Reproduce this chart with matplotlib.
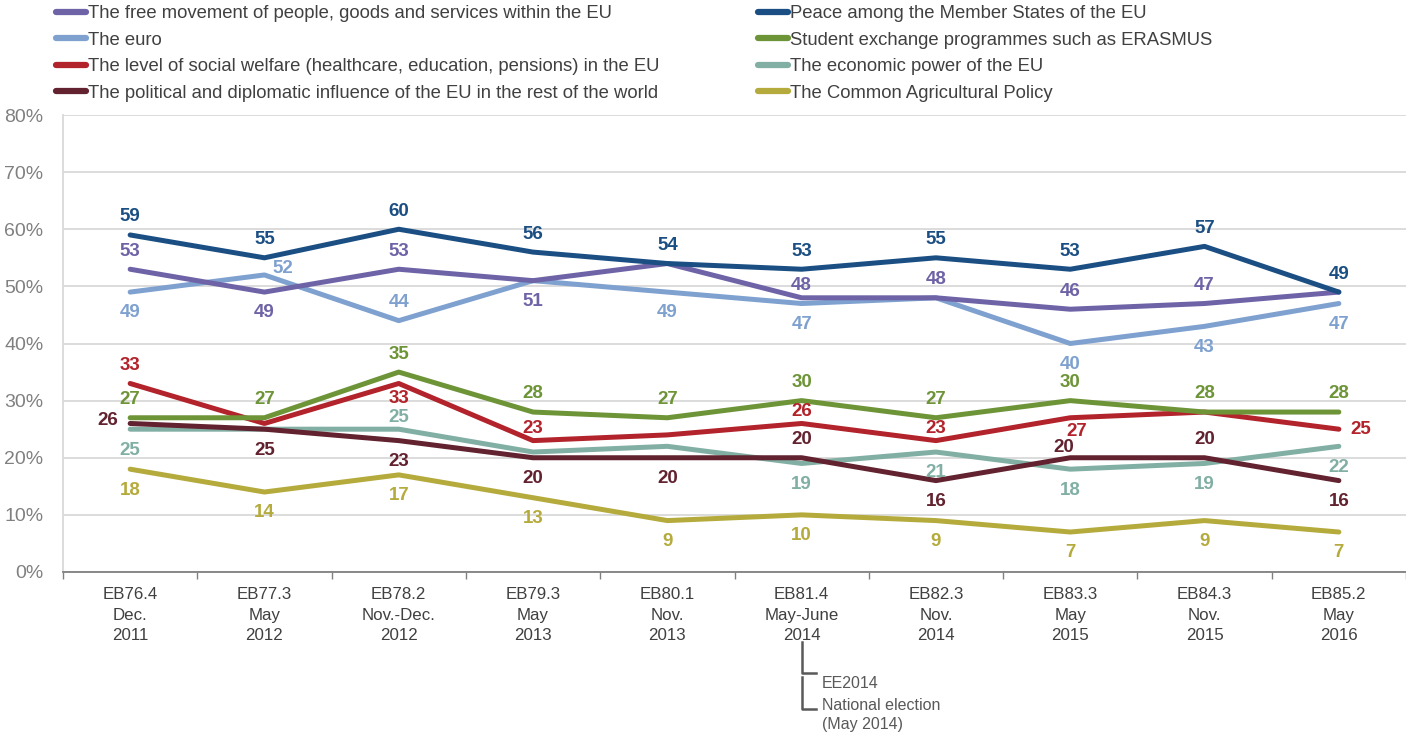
import numpy as np
import matplotlib.pyplot as plt
from matplotlib.lines import Line2D
import matplotlib.transforms as mtransforms

plt.rcParams['font.family'] = ['Liberation Sans', 'DejaVu Sans']

# survey waves (x axis)
waves = ['EB76.4\nDec.\n2011', 'EB77.3\nMay\n2012', 'EB78.2\nNov.-Dec.\n2012',
         'EB79.3\nMay\n2013', 'EB80.1\nNov.\n2013', 'EB81.4\nMay-June\n2014',
         'EB82.3\nNov.\n2014', 'EB83.3\nMay\n2015', 'EB84.3\nNov.\n2015',
         'EB85.2\nMay\n2016']

# series values (%)
free_movement = [53, 49, 53, 51, 54, 48, 48, 46, 47, 49]
euro = [49, 52, 44, 51, 49, 47, 48, 40, 43, 47]
welfare = [33, 26, 33, 23, 24, 26, 23, 27, 28, 25]
influence = [26, 25, 23, 20, 20, 20, 16, 20, 20, 16]
peace = [59, 55, 60, 56, 54, 53, 55, 53, 57, 49]
erasmus = [27, 27, 35, 28, 27, 30, 27, 30, 28, 28]
economic = [25, 25, 25, 21, 22, 19, 21, 18, 19, 22]
cap = [18, 14, 17, 13, 9, 10, 9, 7, 9, 7]

names = ['The free movement of people, goods and services within the EU',
         'The euro',
         'The level of social welfare (healthcare, education, pensions) in the EU',
         'The political and diplomatic influence of the EU in the rest of the world',
         'Peace among the Member States of the EU',
         'Student exchange programmes such as ERASMUS',
         'The economic power of the EU',
         'The Common Agricultural Policy']
values = [free_movement, euro, welfare, influence, peace, erasmus, economic, cap]

colors = ['#6E63A6', '#7FA1CF', '#B2232B', '#62222F',
          '#1B4F83', '#6E9438', '#82AFA4', '#B5AB3D']
zorders = [5, 4, 6, 5, 8, 7, 3, 4]

# where each value label sits: a above, b below, A/B close above/below,
# l left, r right, q up-right, d down-right, e up-left, n no label
label_pos = ['ababnAaaan',
             'bqanbbnbbb',
             'anBAnAAdnr',
             'lbbbbabeab',
             'aaaaaaaaaa',
             'aaaaaaaaaa',
             'bnAnnbbbbb',
             'bbbbbbbbbb']
offsets = {'a': (0, 13), 'b': (0, -15), 'A': (0, 8.5), 'B': (0, -11),
           'l': (-16, 2), 'r': (16, 0), 'q': (13, 5), 'd': (5, -10),
           'e': (-5, 7.5)}

fig = plt.figure(figsize=(14.06, 7.34), dpi=100)
ax = fig.add_axes([63 / 1406, 1 - 572 / 734, 1 - 63 / 1406, 457 / 734])

x = np.arange(len(waves))
handles = []
for vals, col, z, pos in zip(values, colors, zorders, label_pos):
    ln, = ax.plot(x, vals, color=col, lw=3.6, zorder=z,
                  solid_capstyle='round', solid_joinstyle='round')
    handles.append(ln)
    for xi, v, p in zip(x, vals, pos):
        if p == 'n':
            continue
        ax.annotate(str(v), (xi, v), xytext=offsets[p],
                    textcoords='offset points', ha='center', va='center',
                    fontsize=13.5, fontweight='bold', color=col, zorder=10)

ax.set_xlim(-0.5, len(waves) - 0.5)
ax.set_ylim(0, 80)
ax.set_yticks(range(0, 81, 10))
ax.set_yticklabels([f'{v}%' for v in range(0, 81, 10)])
ax.tick_params(axis='y', length=0, pad=14, labelsize=14, labelcolor='#808080')
ax.grid(axis='y', color='#D9D9D9', lw=1.3, zorder=0)

ax.set_xticks(x)
ax.set_xticklabels(waves, fontsize=12.2, color='#404040', linespacing=1.45)
ax.tick_params(axis='x', which='major', length=0, pad=11)
ax.set_xticks(np.arange(-0.5, len(waves)), minor=True)
ax.tick_params(axis='x', which='minor', length=5, width=1, color='#808080',
               direction='out')

for side in ['top', 'right']:
    ax.spines[side].set_visible(False)
ax.spines['left'].set_color('#D9D9D9')
ax.spines['left'].set_linewidth(1.3)
ax.spines['bottom'].set_color('#808080')
ax.spines['bottom'].set_linewidth(1.3)

# election note under EB81.4
trans = mtransforms.blended_transform_factory(ax.transData, fig.transFigure)
note_col = '#595959'
ax.add_line(Line2D([5, 5, 5.11], [1 - 642 / 734, 1 - 673 / 734, 1 - 673 / 734],
                   transform=trans, color=note_col, lw=1.8, clip_on=False))
ax.add_line(Line2D([5, 5, 5.11], [1 - 677 / 734, 1 - 709 / 734, 1 - 709 / 734],
                   transform=trans, color=note_col, lw=1.8, clip_on=False))
for txt, ypix in [('EE2014', 683), ('National election', 706),
                  ('(May 2014)', 725)]:
    ax.text(5.15, 1 - ypix / 734, txt, transform=trans, fontsize=11.5,
            color=note_col, va='center', ha='left')

# legend: two columns of four
leg_kw = dict(loc='upper left', frameon=False, fontsize=13.3, handlelength=1.65,
              handletextpad=0.08, labelspacing=0.52, borderpad=0,
              borderaxespad=0, labelcolor='#404040')
leg1 = fig.legend(handles[:4], names[:4], bbox_to_anchor=(56 / 1406, 1 - 5 / 734),
                  **leg_kw)
leg2 = fig.legend(handles[4:], names[4:], bbox_to_anchor=(758 / 1406, 1 - 5 / 734),
                  **leg_kw)
for leg in (leg1, leg2):
    for h in leg.legend_handles:
        h.set_linewidth(4.5)
        h.set_solid_capstyle('round')

fig.savefig('out.png', dpi=100)
